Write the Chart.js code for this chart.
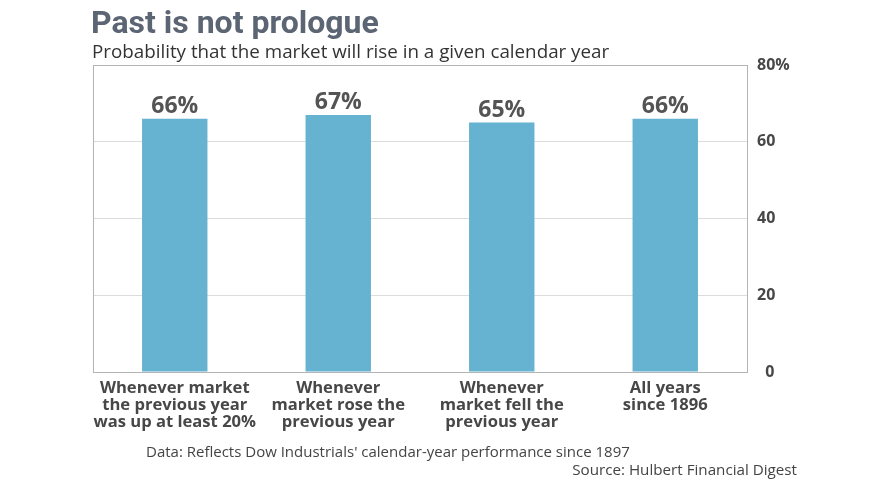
<!DOCTYPE html>
<html>
<head>
<meta charset="utf-8">
<script src="https://cdn.jsdelivr.net/npm/chart.js@4"></script>
<style>
  body { margin: 0; background: #fff; }
  #wrap { position: relative; width: 880px; height: 495px; font-family: 'Open Sans', sans-serif; }
  canvas { position: absolute; left: 0; top: 0; }
  .txt { position: absolute; white-space: nowrap; }
  #title { left: 91px; top: 3px; font-family: Roboto, sans-serif; font-weight: bold; font-size: 32px; color: #5c6573; }
  #sub { left: 92px; top: 38px; font-size: 18.8px; color: #333; }
  #note { left: 146px; top: 441px; font-size: 15px; color: #444; }
  #src { right: 83px; top: 459px; font-size: 15.2px; color: #444; }
</style>
</head>
<body>
<div id="wrap">
  <canvas id="chart" width="880" height="495"></canvas>
  <div class="txt" id="title">Past is not prologue</div>
  <div class="txt" id="sub">Probability that the market will rise in a given calendar year</div>
  <div class="txt" id="note">Data: Reflects Dow Industrials' calendar-year performance since 1897</div>
  <div class="txt" id="src">Source: Hulbert Financial Digest</div>
</div>
<script>
const categorias = [
    ['Whenever market', 'the previous year', 'was up at least 20%'],
    ['Whenever', 'market rose the', 'previous year'],
    ['Whenever', 'market fell the', 'previous year'],
    ['All years', 'since 1896']
]
const probabilidade = [66, 67, 65, 66]
const yTicks = [0, 20, 40, 60, 80]

// moldura da area do grafico
const moldura = {
    id: 'moldura',
    beforeDatasetsDraw(chart) {
        const { ctx, chartArea: a } = chart
        ctx.save()
        ctx.strokeStyle = '#b4b4b4'
        ctx.lineWidth = 1
        ctx.strokeRect(Math.round(a.left) + 0.5, Math.round(a.top) + 0.5, Math.round(a.right - a.left), Math.round(a.bottom - a.top))
        ctx.restore()
    }
}

// rotulos em cima das barras
const rotulos = {
    id: 'rotulos',
    afterDatasetsDraw(chart) {
        const { ctx } = chart
        const meta = chart.getDatasetMeta(0)
        ctx.save()
        ctx.fillStyle = '#545454'
        ctx.font = 'bold 23px "Open Sans", sans-serif'
        ctx.textAlign = 'center'
        ctx.textBaseline = 'bottom'
        meta.data.forEach((bar, i) => {
            ctx.fillText(`${probabilidade[i]}%`, bar.x, bar.y - 1)
        })
        ctx.restore()
    }
}

new Chart(document.getElementById('chart'), {
    type: 'bar',
    data: {
        labels: categorias,
        datasets: [{
            data: probabilidade,
            backgroundColor: '#66b2d1',
            barPercentage: 0.4,
            categoryPercentage: 1
        }]
    },
    options: {
        responsive: false,
        animation: false,
        layout: { padding: { left: 93, top: 65, right: 0, bottom: 0 } },
        plugins: { legend: { display: false }, tooltip: { enabled: false } },
        scales: {
            x: {
                grid: { display: false },
                border: { display: false },
                ticks: {
                    color: '#474747',
                    font: { family: 'Open Sans', weight: 'bold', size: 16.6, lineHeight: 1.03 },
                    padding: 0,
                    maxRotation: 0,
                    autoSkip: false
                },
                afterFit(scale) { scale.height = 123 }
            },
            y: {
                position: 'right',
                min: 0,
                max: 80,
                afterBuildTicks(scale) { scale.ticks = yTicks.map(v => ({ value: v })) },
                grid: { color: '#dcdcdc', drawTicks: false },
                border: { display: false },
                ticks: {
                    color: '#474747',
                    font: { family: 'Open Sans', weight: 'bold', size: 16 },
                    padding: 10,
                    callback: v => v === 80 ? '80%' : (v === 0 ? '  0' : v)
                },
                afterFit(scale) { scale.width = 133 }
            }
        }
    },
    plugins: [moldura, rotulos]
})
</script>
</body>
</html>
